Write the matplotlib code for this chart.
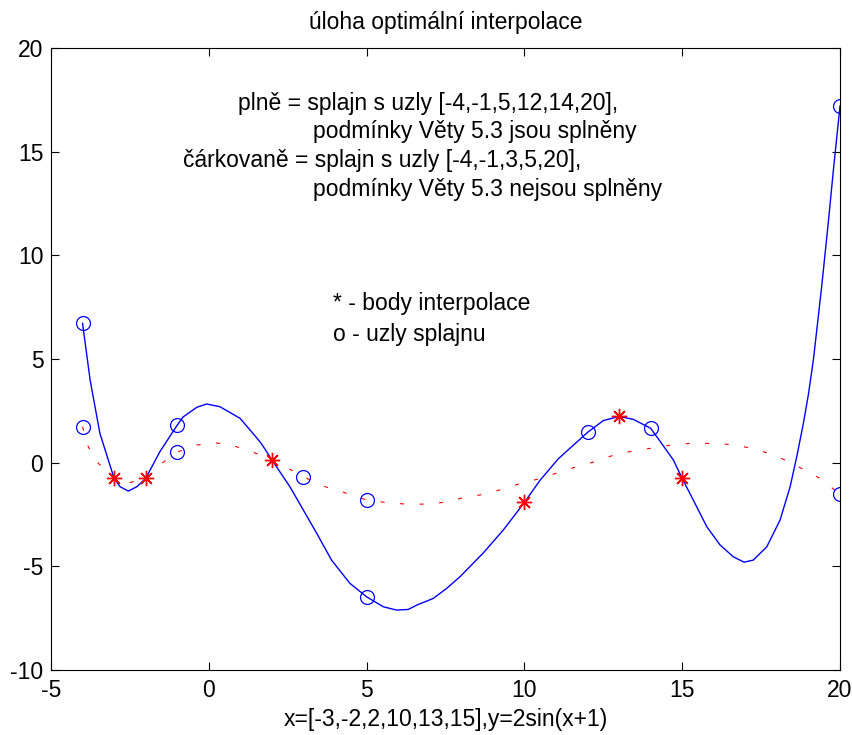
import numpy as np
import matplotlib
matplotlib.use('Agg')
import matplotlib.pyplot as plt

plt.rcParams['font.family'] = ['Liberation Sans', 'DejaVu Sans']
plt.rcParams['axes.unicode_minus'] = False

# %%
# data
# solid spline (knots -4,-1,5,12,14,20)
solid_x = [-4.0, -3.76, -3.45, -3.0, -2.81, -2.55, -2.28, -2.0, -1.55, -1.0,
           -0.81, -0.38, -0.07, 0.35, 0.99, 1.31, 1.62, 1.73, 2.0, 2.57,
           3.42, 3.89, 4.47, 5.0, 5.53, 5.95, 6.32, 6.59, 7.11, 7.54,
           7.96, 8.70, 9.33, 10.0, 10.49, 11.07, 11.44, 12.0, 12.5, 13.0,
           13.45, 14.0, 14.3, 14.72, 15.0, 15.35, 15.78, 16.2, 16.62, 16.96,
           17.25, 17.68, 18.1, 18.42, 18.63, 18.84, 19.0, 19.16, 19.42, 19.63,
           19.79, 20.0]
solid_y = [6.72, 3.98, 1.41, -0.76, -1.16, -1.37, -1.16, -0.76, 0.53, 1.81,
           2.21, 2.67, 2.83, 2.70, 2.14, 1.57, 1.01, 0.77, 0.13, -1.16,
           -3.41, -4.70, -5.82, -6.47, -6.95, -7.11, -7.08, -6.87, -6.55, -6.06,
           -5.50, -4.35, -3.25, -1.92, -0.86, 0.18, 0.69, 1.46, 2.03, 2.23,
           2.09, 1.66, 1.03, 0.13, -0.76, -1.80, -3.09, -3.97, -4.54, -4.80,
           -4.70, -4.06, -2.77, -1.16, 0.29, 1.9, 3.3, 5.0, 8.5, 11.6,
           14.1, 17.2]

# dashed spline (knots -4,-1,3,5,20)
dash_x = [-4.0, -3.82, -3.5, -3.0, -2.52, -2.0, -1.46, -1.0, -0.38, 0.2,
          0.78, 1.41, 2.0, 2.52, 3.0, 3.63, 4.21, 5.0, 5.64, 6.27,
          6.9, 7.54, 8.06, 8.7, 9.28, 9.88, 10.49, 11.07, 11.66, 12.24,
          12.82, 13.45, 14.03, 14.64, 15.25, 15.88, 16.49, 17.09, 17.68, 18.26,
          18.82, 19.37, 20.0]
dash_y = [1.73, 0.77, -0.03, -0.76, -0.97, -0.76, 0.0, 0.51, 0.85, 0.96,
          0.82, 0.50, 0.13, -0.28, -0.68, -1.13, -1.40, -1.80, -1.93, -2.0,
          -2.0, -1.90, -1.69, -1.53, -1.29, -1.0, -0.77, -0.48, -0.19, 0.05,
          0.36, 0.57, 0.70, 0.85, 0.93, 0.93, 0.88, 0.73, 0.48, 0.13,
          -0.31, -0.76, -1.52]

solid_knots_x = [-4, -1, 5, 12, 14, 20]
solid_knots_y = [6.72, 1.81, -6.47, 1.46, 1.66, 17.2]
dash_knots_x = [-4, -1, 3, 5, 20]
dash_knots_y = [1.73, 0.51, -0.68, -1.80, -1.52]

interp_x = [-3, -2, 2, 10, 13, 15]
interp_y = [-0.76, -0.76, 0.13, -1.92, 2.23, -0.76]

xticks = [-5, 0, 5, 10, 15, 20]
yticks = [-10, -5, 0, 5, 10, 15, 20]

# %%
fs = 16.5
fig = plt.figure(figsize=(8.53, 7.35), dpi=100)
ax = fig.add_axes([51 / 853, 65 / 735, 789 / 853, 622 / 735])

ax.plot(solid_x, solid_y, color='b', lw=1.0)
ax.plot(dash_x, dash_y, color='r', lw=0.8, linestyle=(0, (3.6, 14)))
ax.plot(solid_knots_x, solid_knots_y, 'o', color='b', mfc='none', ms=10, mew=0.9)
ax.plot(dash_knots_x, dash_knots_y, 'o', color='b', mfc='none', ms=10, mew=0.9)
ax.plot(interp_x, interp_y, marker=(8, 2, 0), ls='none', color='r', ms=11, mew=1.0)

ax.set_xlim(-5, 20)
ax.set_ylim(-10, 20)
ax.set_xticks(xticks)
ax.set_yticks(yticks)
ax.tick_params(direction='in', length=5.8, width=0.8, top=True, right=True,
               labelsize=fs)
ax.tick_params(axis='x', pad=6.5)
ax.tick_params(axis='y', pad=5.5)
for s in ax.spines.values():
    s.set_linewidth(0.8)

ax.set_title('úloha optimální interpolace', fontsize=fs, pad=14)
ax.set_xlabel('x=[-3,-2,2,10,13,15],y=2sin(x+1)', fontsize=fs, labelpad=4)

ax.text(0.925, 17.0, 'plně = splajn s uzly [-4,-1,5,12,14,20],', fontsize=fs)
ax.text(3.30, 15.66, 'podmínky Věty 5.3 jsou splněny', fontsize=fs)
ax.text(-0.82, 14.26, 'čárkovaně = splajn s uzly [-4,-1,3,5,20],', fontsize=fs)
ax.text(3.30, 12.86, 'podmínky Věty 5.3 nejsou splněny', fontsize=fs)
ax.text(3.94, 7.36, '* - body interpolace', fontsize=fs)
ax.text(3.94, 5.87, 'o - uzly splajnu', fontsize=fs)

fig.savefig('out.png', dpi=100)
